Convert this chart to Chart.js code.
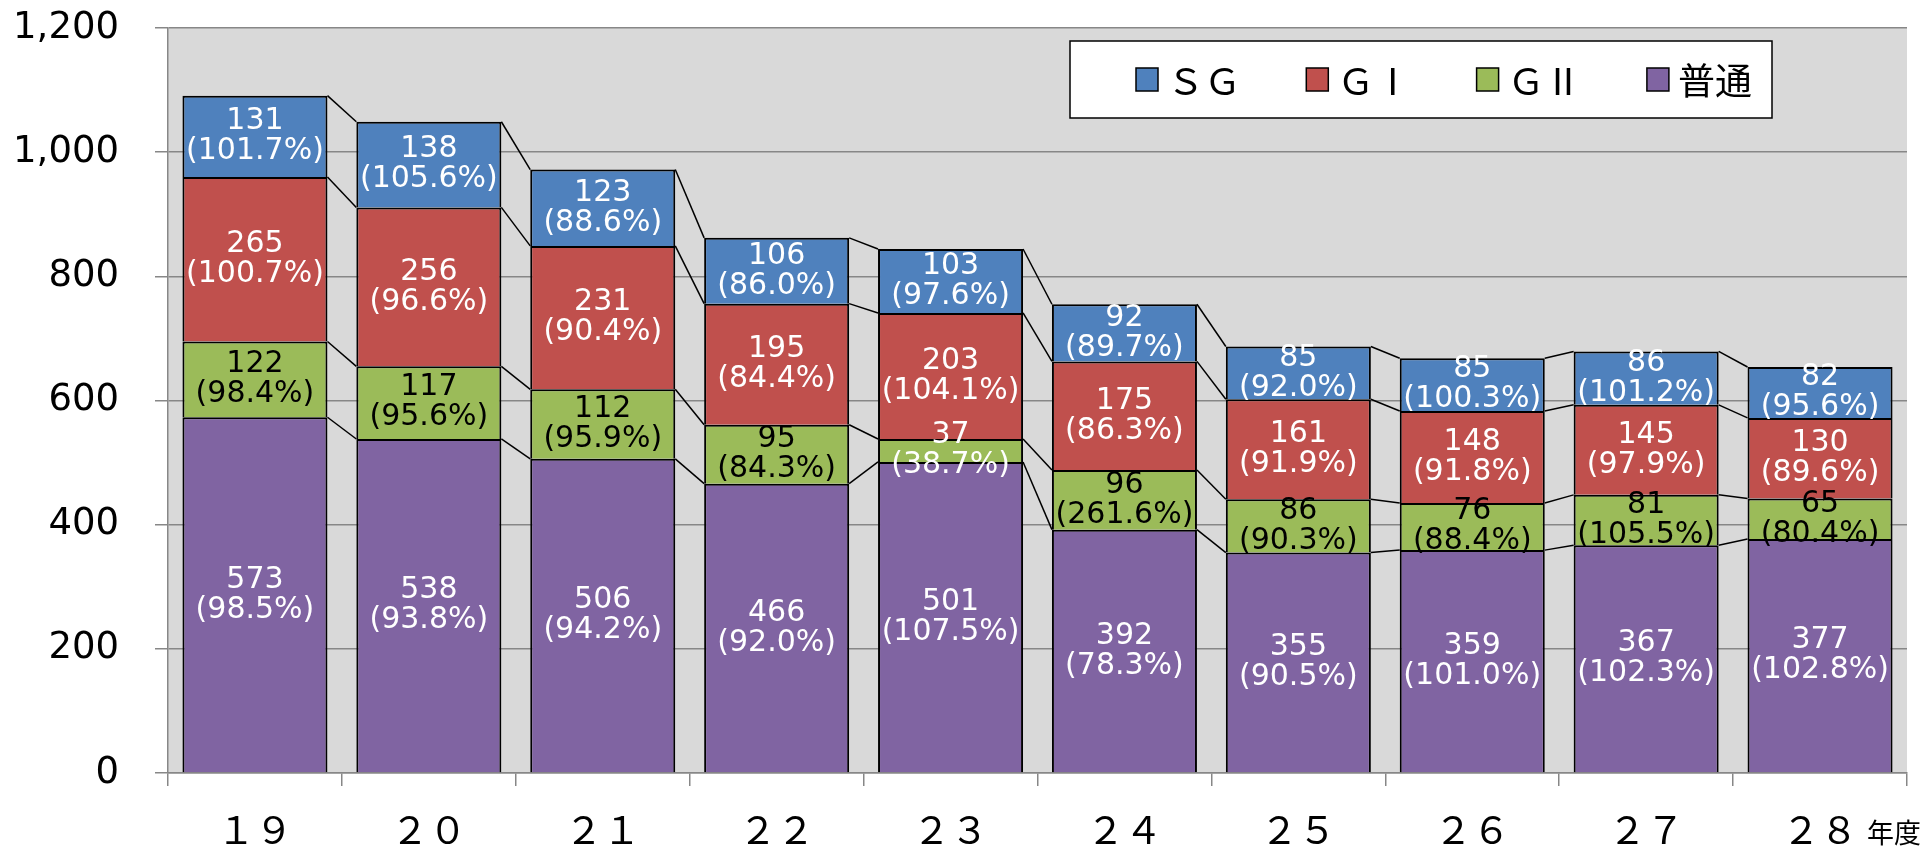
<!DOCTYPE html>
<html>
<head>
<meta charset="utf-8">
<script src="https://cdn.jsdelivr.net/npm/chart.js@4/dist/chart.umd.min.js"></script>
<style>
body { margin: 0; background: #fff; }
#wrap { width: 1927px; height: 849px; }
</style>
</head>
<body>
<div id="wrap"><canvas id="myChart"></canvas></div>
<script>
// 年度
let years = ['１９', '２０', '２１', '２２', '２３', '２４', '２５', '２６', '２７', '２８'];

// 件数 と 前年比
let futsu    = [573, 538, 506, 466, 501, 392, 355, 359, 367, 377];
let futsuPct = [98.5, 93.8, 94.2, 92.0, 107.5, 78.3, 90.5, 101.0, 102.3, 102.8];
let g2       = [122, 117, 112, 95, 37, 96, 86, 76, 81, 65];
let g2Pct    = [98.4, 95.6, 95.9, 84.3, 38.7, 261.6, 90.3, 88.4, 105.5, 80.4];
let g1       = [265, 256, 231, 195, 203, 175, 161, 148, 145, 130];
let g1Pct    = [100.7, 96.6, 90.4, 84.4, 104.1, 86.3, 91.9, 91.8, 97.9, 89.6];
let sg       = [131, 138, 123, 106, 103, 92, 85, 85, 86, 82];
let sgPct    = [101.7, 105.6, 88.6, 86.0, 97.6, 89.7, 92.0, 100.3, 101.2, 95.6];

let yTicks = [0, 200, 400, 600, 800, 1000, 1200];

let gridColor = '#878787';
let cjk = '"Noto Sans CJK JP", sans-serif';
let latin = '"DejaVu Sans", Verdana, sans-serif';

// plot background
const plotBg = {
    id: 'plotBg',
    beforeDraw(chart) {
        const a = chart.chartArea, c = chart.ctx;
        c.save();
        c.fillStyle = '#d9d9d9';
        c.fillRect(a.left, a.top, a.right - a.left, a.bottom - a.top);
        c.restore();
    }
};

// lines between bars + value labels
const barExtras = {
    id: 'barExtras',
    afterDatasetsDraw(chart) {
        const c = chart.ctx;
        c.save();
        c.strokeStyle = '#000';
        c.lineWidth = 1.5;
        chart.data.datasets.forEach((ds, d) => {
            const bars = chart.getDatasetMeta(d).data;
            for (let i = 0; i < bars.length - 1; i++) {
                const a = bars[i], b = bars[i + 1];
                c.beginPath();
                c.moveTo(a.x + a.width / 2, a.y);
                c.lineTo(b.x - b.width / 2, b.y);
                c.stroke();
            }
        });
        c.font = '30px ' + latin;
        c.textAlign = 'center';
        c.textBaseline = 'middle';
        chart.data.datasets.forEach((ds, d) => {
            const bars = chart.getDatasetMeta(d).data;
            bars.forEach((el, i) => {
                const cy = (el.y + el.base) / 2;
                c.fillStyle = typeof ds.textColor === 'function' ? ds.textColor(i) : ds.textColor;
                c.fillText(String(ds.data[i]), el.x, cy - 15);
                c.fillText('(' + ds.pct[i].toFixed(1) + '%)', el.x, cy + 15);
            });
        });
        c.restore();
    },
    afterDraw(chart) {
        const c = chart.ctx, a = chart.chartArea;
        c.save();
        // legend box
        const lx = a.left + 902, ly = a.top + 13, lw = 702, lh = 77;
        c.fillStyle = '#fff';
        c.fillRect(lx, ly, lw, lh);
        c.strokeStyle = '#000';
        c.lineWidth = 1.5;
        c.strokeRect(lx, ly, lw, lh);
        const order = [3, 2, 1, 0];
        c.font = '37px ' + cjk;
        c.textAlign = 'left';
        c.textBaseline = 'middle';
        order.forEach((d, k) => {
            const ds = chart.data.datasets[d];
            const sx = lx + 66 + k * 170.3, sy = ly + 27;
            c.fillStyle = ds.backgroundColor;
            c.fillRect(sx, sy, 22, 23);
            c.strokeStyle = '#000';
            c.lineWidth = 1.5;
            c.strokeRect(sx, sy, 22, 23);
            c.fillStyle = '#000';
            c.fillText(ds.label, sx + 31, ly + lh / 2 + 1);
        });
        // unit
        c.font = '27px ' + cjk;
        c.fillText('年度', a.right - 40, a.bottom + 60);
        c.restore();
    }
};

let ctx = document.getElementById('myChart');
let myChart = new Chart(ctx, {
    type: 'bar',
    data: {
        labels: years,
        datasets: [
            { label: '普通', data: futsu, pct: futsuPct, backgroundColor: '#8064a2', textColor: '#fff' },
            { label: 'ＧⅡ', data: g2, pct: g2Pct, backgroundColor: '#9bbb59', textColor: i => (i === 4 ? '#fff' : '#000') },
            { label: 'ＧⅠ', data: g1, pct: g1Pct, backgroundColor: '#c0504d', textColor: '#fff' },
            { label: 'ＳＧ', data: sg, pct: sgPct, backgroundColor: '#4f81bd', textColor: '#fff' }
        ]
    },
    options: {
        responsive: true,
        maintainAspectRatio: false,
        animation: false,
        locale: 'en-US',
        layout: { padding: { top: 28, right: 20, left: 0, bottom: 0 } },
        datasets: {
            bar: {
                borderColor: '#000',
                borderWidth: 2,
                categoryPercentage: 1,
                barPercentage: 0.834
            }
        },
        plugins: {
            legend: { display: false },
            tooltip: { enabled: false }
        },
        scales: {
            x: {
                stacked: true,
                afterFit: s => { s.height = 76; s.paddingLeft = 0; s.paddingRight = 0; },
                grid: { drawOnChartArea: false, drawTicks: true, tickLength: 13, color: gridColor, lineWidth: 1.5 },
                border: { color: gridColor, width: 1.5 },
                ticks: { color: '#000', font: { family: cjk, size: 38 }, padding: 21 }
            },
            y: {
                stacked: true,
                min: 0,
                max: 1200,
                afterFit: s => { s.width = 168; s.paddingTop = 0; s.paddingBottom = 0; },
                afterBuildTicks: s => { s.ticks = yTicks.map(v => ({ value: v })); },
                grid: { color: gridColor, lineWidth: 1.5, tickLength: 13 },
                border: { color: gridColor, width: 1.5 },
                ticks: { color: '#000', font: { family: latin, size: 37 }, padding: 36 }
            }
        }
    },
    plugins: [plotBg, barExtras]
});
</script>
</body>
</html>
